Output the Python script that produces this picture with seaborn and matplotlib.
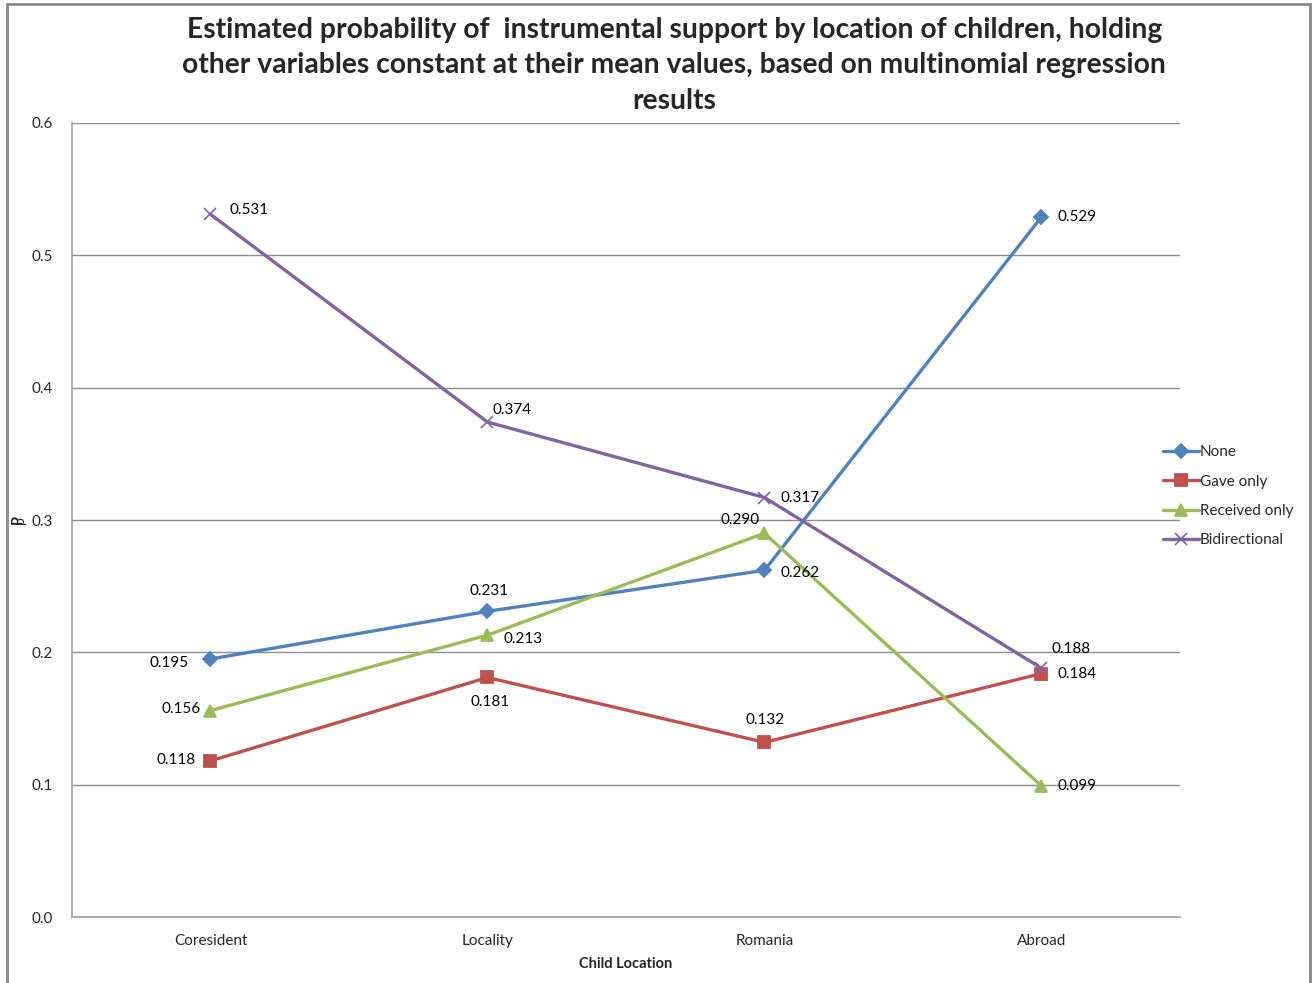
import matplotlib
matplotlib.use("Agg")
import matplotlib.pyplot as plt
from matplotlib.patches import Rectangle
from matplotlib.ticker import FixedLocator
import seaborn as sns
import pandas as pd

categories = ["Coresident", "Locality", "Romania", "Abroad"]
series_names = ["None", "Gave only", "Received only", "Bidirectional"]
none_vals = [0.195, 0.231, 0.262, 0.529]
gave_vals = [0.118, 0.181, 0.132, 0.184]
received_vals = [0.156, 0.213, 0.290, 0.099]
bidir_vals = [0.531, 0.374, 0.317, 0.188]
y_ticks = [0.0, 0.1, 0.2, 0.3, 0.4, 0.5, 0.6]

colors = {"None": "#4F81BD", "Gave only": "#C0504D",
          "Received only": "#9BBB59", "Bidirectional": "#8064A2"}
markers = {"None": "D", "Gave only": "s", "Received only": "^", "Bidirectional": "x"}
msizes = {"None": 7, "Gave only": 8, "Received only": 9, "Bidirectional": 9}

values = {"None": none_vals, "Gave only": gave_vals,
          "Received only": received_vals, "Bidirectional": bidir_vals}

rows = []
for s in series_names:
    for i, c in enumerate(categories):
        rows.append({"pos": i, "location": c, "series": s, "p": values[s][i]})
df = pd.DataFrame(rows)

# label offsets in pixels (dx, dy, ha, va)
label_offsets = {
    "None": [(-22, -4, "right", "center"), (2, 13, "center", "bottom"),
             (16, -3, "left", "center"), (16, 0, "left", "center")],
    "Gave only": [(-15, 1, "right", "center"), (3, -18, "center", "top"),
                  (1, 15, "center", "bottom"), (16, 0, "left", "center")],
    "Received only": [(-10, 2, "right", "center"), (16, -4, "left", "center"),
                      (-5, 6, "right", "bottom"), (16, 0, "left", "center")],
    "Bidirectional": [(19, 4, "left", "center"), (5, 5, "left", "bottom"),
                      (16, 0, "left", "center"), (10, 12, "left", "bottom")],
}

sns.set_style("white")
plt.rcParams["font.family"] = ["Lato", "DejaVu Sans"]

fig = plt.figure(figsize=(13.13, 9.83), dpi=100)
ax = fig.add_axes([0.0548, 0.0671, 0.8439, 0.8078])

for s in series_names:
    sub = df[df["series"] == s]
    sns.lineplot(data=sub, x="pos", y="p", ax=ax, color=colors[s],
                 marker=markers[s], markersize=msizes[s], linewidth=2.4,
                 markeredgecolor=colors[s], markeredgewidth=1.3 if s != "Bidirectional" else 1.2,
                 label=s, legend=False)
    for i, v in enumerate(values[s]):
        dx, dy, ha, va = label_offsets[s][i]
        ax.annotate(f"{v:.3f}", (i, v), xytext=(dx, dy), textcoords="offset pixels",
                    ha=ha, va=va, fontsize=11, color="#000000")

ax.set_xlim(-0.5, 3.5)
ax.set_ylim(0, 0.6)
ax.set_yticks(y_ticks)
ax.set_yticklabels([f"{t:.1f}" for t in y_ticks])
ax.set_xticks(range(len(categories)))
ax.set_xticklabels(categories)
ax.xaxis.set_minor_locator(FixedLocator([-0.5, 0.5, 1.5, 2.5, 3.5]))
ax.tick_params(axis="x", which="major", length=0, pad=12, labelsize=11)
ax.tick_params(axis="x", which="minor", length=6, color="#A0A0A0", width=1)
ax.tick_params(axis="y", which="major", length=6, color="#A0A0A0", width=1,
               pad=8, labelsize=11)
ax.grid(axis="y", color="#8C8C8C", linewidth=1)
ax.set_axisbelow(True)
for side in ["top", "right"]:
    ax.spines[side].set_visible(False)
for side in ["left", "bottom"]:
    ax.spines[side].set_color("#A0A0A0")
    ax.spines[side].set_linewidth(1.2)

ax.set_xlabel("Child Location", fontsize=10.5, fontweight="bold", labelpad=7)
fig.text(18 / 1313, 1 - 520 / 983, "P", rotation=90, ha="center", va="center",
         fontsize=10.5, fontweight="bold")

fig.text(0.5135, 0.983,
         "Estimated probability of  instrumental support by location of children, holding\n"
         "other variables constant at their mean values, based on multinomial regression\n"
         "results",
         ha="center", va="top", fontsize=20.3, fontweight="bold", linespacing=1.45)

handles, labels = ax.get_legend_handles_labels()
fig.legend(handles, labels, loc="center left", bbox_to_anchor=(0.875, 0.495),
           frameon=False, fontsize=11, handlelength=2.4, handletextpad=0.05,
           labelspacing=1.0)

fig.add_artist(Rectangle((7 / 1313, -0.01), 1303 / 1313, 0.01 + 979 / 983,
                         transform=fig.transFigure, fill=False,
                         edgecolor="#888888", linewidth=2))

fig.savefig("out.png", dpi=100, facecolor="white")
